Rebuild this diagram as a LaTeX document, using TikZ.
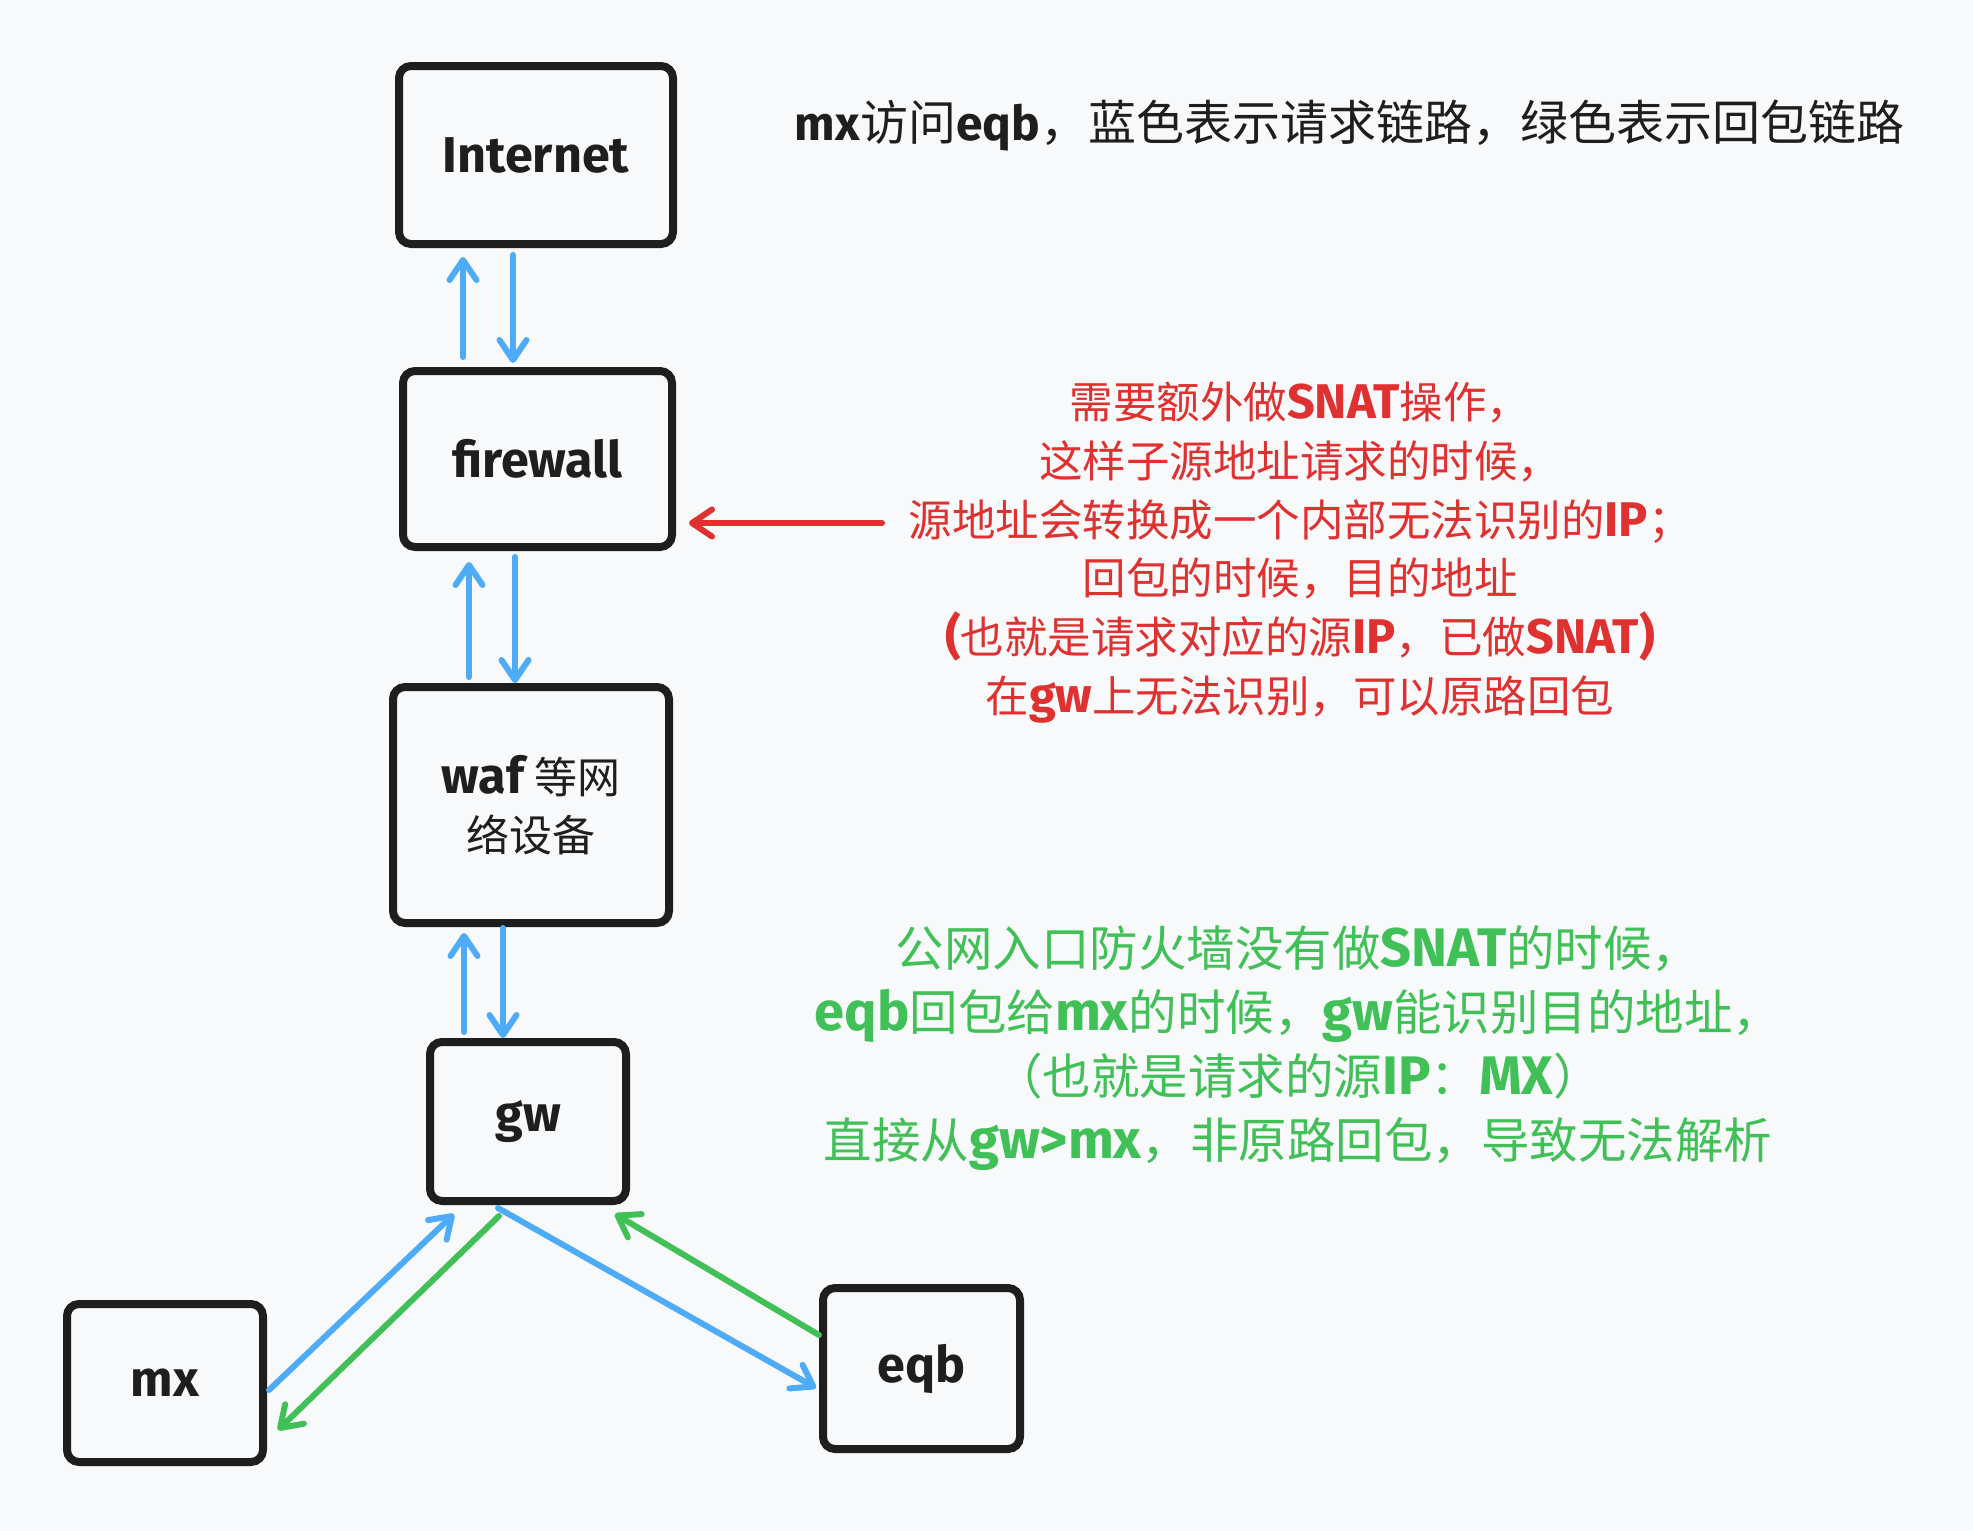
\documentclass[tikz,border=0pt]{standalone}
\usepackage{fontspec}
\setmainfont{Noto Sans CJK SC}
\newfontfamily\latfont{Fira Sans}
\newfontfamily\latwide{Fira Sans}[Scale=1.12]
\newfontfamily\latbox{Fira Sans}[Scale=1.17]
\usetikzlibrary{arrows.meta,calc}
\definecolor{bgc}{HTML}{F8F9FA}
\definecolor{ink}{HTML}{1E1E1E}
\definecolor{ablue}{HTML}{4DABF7}
\definecolor{agreen}{HTML}{40C057}
\definecolor{ared}{HTML}{E03131}
\newcommand\lt[1]{{\latfont\bfseries #1}}
\newcommand\lw[1]{{\latwide\bfseries #1}}
\newcommand\lb[1]{{\latbox\bfseries #1}}
\begin{document}
\begin{tikzpicture}[x=1pt,y=-1pt,
  box/.style={draw=ink, line width=8pt, rounded corners=12pt, inner sep=0pt,
    text=ink, font=\fontsize{43}{58}\selectfont, align=center},
  conn/.style={line width=6pt, line cap=round,
    -{Straight Barb[length=20pt,width=27pt,line cap=round,line join=round]}},
  req/.style={conn, draw=ablue},
  rep/.style={conn, draw=agreen},
  note/.style={align=center, inner sep=0pt}]
\fill[bgc] (0,0) rectangle (1973,1531);
\useasboundingbox (0,0) rectangle (1973,1531);

\node[box, minimum width=274pt, minimum height=178pt] (inet) at (536,155) {\lb{Internet}};
\node[box, minimum width=269pt, minimum height=176pt] (fw) at (537.5,459) {\lb{firewall}};
\node[box, minimum width=276pt, minimum height=236pt] (waf) at (531,805) {\lb{waf} 等网\\络设备};
\node[box, minimum width=196pt, minimum height=159pt] (gw) at (528,1121.5) {\lb{gw}};
\node[box, minimum width=196pt, minimum height=158pt] (mx) at (165,1383) {\lb{mx}};
\node[box, minimum width=197pt, minimum height=161pt] (eqb) at (921.5,1368.5) {\lb{eqb}};

\node[note, text=ink, font=\fontsize{48}{58}\selectfont] (title) at (1349.5,126)
  {\lt{mx}访问\lt{eqb}，蓝色表示请求链路，绿色表示回包链路};

\node[note, text=ared, font=\fontsize{43.5}{58.7}\selectfont] (rednote) at (1300,552.5)
  {需要额外做\lw{SNAT}操作，\\
   这样子源地址请求的时候，\\
   源地址会转换成一个内部无法识别的\lw{IP}；\\
   回包的时候，目的地址\\
   \lw{(}也就是请求对应的源\lw{IP}，已做\lw{SNAT)}\\
   在\lw{gw}上无法识别，可以原路回包};

\node[note, text=agreen, font=\fontsize{48.5}{64}\selectfont] (greennote) at (1298,1048.5)
  {公网入口防火墙没有做\lw{SNAT}的时候，\\
   \lw{eqb}回包给\lw{mx}的时候，\lw{gw}能识别目的地址，\\
   （也就是请求的源\lw{IP}：\lw{MX}）\\
   直接从\lw{gw>mx}，非原路回包，导致无法解析};

\coordinate (redsrc) at (882,523);

% vertical chain
\draw[req] ($(fw.center)+(-74.5,-102)$) -- ($(inet.center)+(-73,102)$);
\draw[req] ($(inet.center)+(-23,100)$) -- ($(fw.center)+(-24.5,-96)$);
\draw[req] ($(waf.center)+(-62,-128)$) -- ($(fw.center)+(-68.5,103)$);
\draw[req] ($(fw.center)+(-22.5,98)$) -- ($(waf.center)+(-16,-122)$);
\draw[req] ($(gw.center)+(-64,-89.5)$) -- ($(waf.center)+(-67,128)$);
\draw[req] ($(waf.center)+(-28,123)$) -- ($(gw.center)+(-25,-83.5)$);

% bottom triangle
\draw[req] ($(mx.center)+(104,7)$) -- ($(gw.center)+(-74,92.5)$);
\draw[rep] ($(gw.center)+(-29,94.5)$) -- ($(mx.center)+(113,47)$);
\draw[req] ($(gw.center)+(-30,86.5)$) -- ($(eqb.center)+(-105.5,19.5)$);
\draw[rep] ($(eqb.center)+(-102.5,-33.5)$) -- ($(gw.center)+(87,92.5)$);

% red pointer
\draw[conn, draw=ared] (redsrc) -- ($(fw.center)+(151.5,64)$);
\end{tikzpicture}
\end{document}
